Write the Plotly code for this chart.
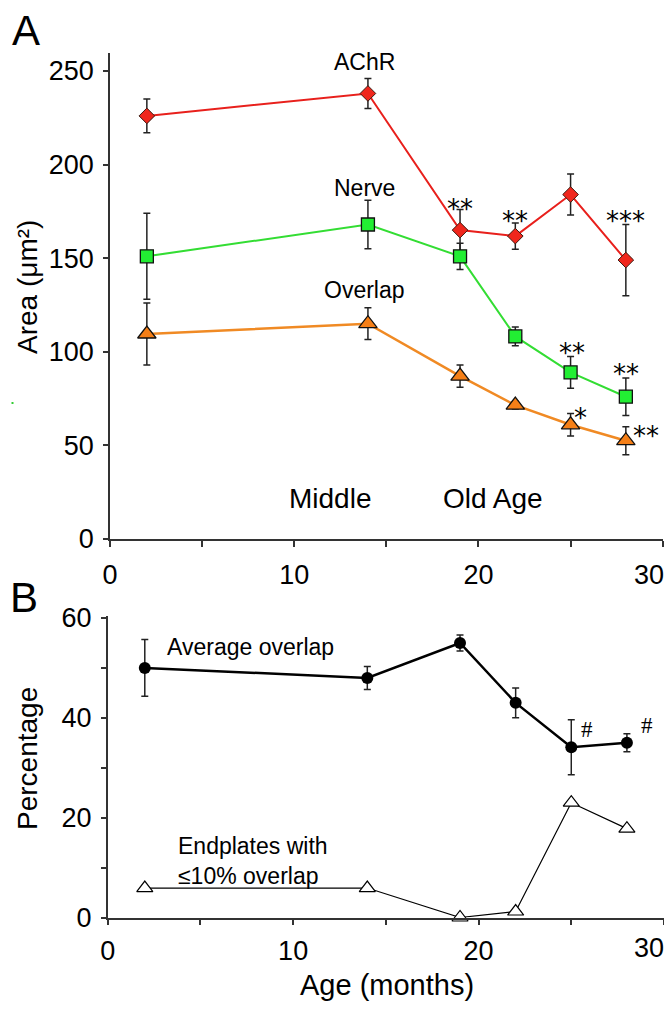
import plotly.graph_objects as go

# ---------------- data ----------------
ages = [2, 14, 19, 22, 25, 28]

achr_area = [226, 238, 165, 161.8, 184, 149]
achr_err = [9, 8, 11, 7, 11, 19]

nerve_area = [151, 168, 151, 108.2, 89, 76]
nerve_err = [23, 13, 7, 5, 8.5, 10]

overlap_area = [109.5, 115, 87, 71.5, 61, 52.5]
overlap_err = [16.5, 8.5, 6, 2, 6, 7.5]

avg_overlap_pct = [50, 48, 55, 43, 34.1, 35]
avg_overlap_err = [5.7, 2.3, 1.6, 3, 5.5, 1.8]

low_overlap_pct = [5.9, 5.9, 0, 1.2, 23, 17.8]

x_tickvals = [0, 5, 10, 15, 20, 25, 30]
x_ticktext = ["0", "", "10", "", "20", "", ""]
ya_tickvals = [0, 50, 100, 150, 200, 250]
ya_ticktext = ["0", "50", "100", "150", "200", "250"]
yb_tickvals = [0, 10, 20, 30, 40, 50, 60]
yb_ticktext = ["0", "", "20", "", "40", "", "60"]

# significance marks (x, y, text)
sig_a = [
    (19, 180.3, "**"), (22, 174.1, "**"), (28.0, 174.1, "***"),
    (25.1, 103.8, "**"), (28.0, 92.4, "**"),
    (25.55, 68.9, "*"), (29.1, 59.1, "**"),
]
sig_b = [(25.84, 37.6, "#"), (29.07, 38.4, "#")]

FONT = "Liberation Sans, Arial, sans-serif"
# the page body adds an 8px margin, so the figure is sized/offset to compensate
OFF = 8
W, H = 672 - OFF, 1009 - OFF


def px(x):
    return (x - OFF) / W


def py(y):
    return 1 - (y - OFF) / H


fig = go.Figure()

err_style = dict(type="data", thickness=1.5, width=3.5, color="#222222")

# Panel A
fig.add_trace(go.Scatter(
    x=ages, y=achr_area, mode="lines+markers", xaxis="x", yaxis="y",
    line=dict(color="#e8201c", width=2),
    marker=dict(symbol="diamond", size=12, color="#f0261c",
                line=dict(color="#3a1a10", width=1)),
    error_y=dict(array=achr_err, **err_style), cliponaxis=False, showlegend=False))
fig.add_trace(go.Scatter(
    x=ages, y=nerve_area, mode="lines+markers", xaxis="x", yaxis="y",
    line=dict(color="#33dd33", width=2),
    marker=dict(symbol="square", size=13, color="#22ee33",
                line=dict(color="#111111", width=1.3)),
    error_y=dict(array=nerve_err, **err_style), cliponaxis=False, showlegend=False))
fig.add_trace(go.Scatter(
    x=ages, y=overlap_area, mode="lines+markers", xaxis="x", yaxis="y",
    line=dict(color="#f08a24", width=2.5),
    marker=dict(symbol="triangle-up", size=16, color="#f57f17",
                line=dict(color="#111111", width=1.3)),
    error_y=dict(array=overlap_err, **err_style), cliponaxis=False, showlegend=False))

# Panel B
fig.add_trace(go.Scatter(
    x=ages, y=avg_overlap_pct, mode="lines+markers", xaxis="x2", yaxis="y2",
    line=dict(color="#000000", width=2.5),
    marker=dict(symbol="circle", size=12, color="#000000"),
    error_y=dict(array=avg_overlap_err, **err_style), cliponaxis=False, showlegend=False))
fig.add_trace(go.Scatter(
    x=ages, y=low_overlap_pct, mode="lines+markers", xaxis="x2", yaxis="y2",
    line=dict(color="#000000", width=1.2),
    marker=dict(symbol="triangle-up", size=14, color="#ffffff",
                line=dict(color="#000000", width=1.2)),
    cliponaxis=False, showlegend=False))

xaxis_common = dict(
    range=[0, 30], showline=True, linecolor="#333333", linewidth=1.5,
    ticks="outside", ticklen=6, tickwidth=1.5, tickcolor="#333333",
    tickvals=x_tickvals, ticktext=x_ticktext,
    tickfont=dict(family=FONT, size=27, color="#000000"),
    showgrid=False, zeroline=False, fixedrange=True, automargin=False,
)
yaxis_common = dict(
    showline=True, linecolor="#333333", linewidth=1.5,
    ticks="outside", ticklen=5, tickwidth=1.5, tickcolor="#333333",
    tickfont=dict(family=FONT, size=27, color="#000000"),
    showgrid=False, zeroline=False, fixedrange=True, automargin=False,
)

fig.update_layout(
    template="none",
    width=W, height=H, margin=dict(l=0, r=0, t=0, b=0, autoexpand=False),
    paper_bgcolor="#ffffff", plot_bgcolor="#ffffff",
    font=dict(family=FONT, color="#000000"),
    xaxis=dict(domain=[px(110), px(662.7)], anchor="y",
               ticklabelstandoff=5, **xaxis_common),
    yaxis=dict(domain=[py(539), py(53)], anchor="x", range=[0, 259.6],
               tickvals=ya_tickvals, ticktext=ya_ticktext,
               ticklabelstandoff=4, **yaxis_common),
    xaxis2=dict(domain=[px(107.7), px(664)], anchor="y2",
                ticklabelstandoff=2, **xaxis_common),
    yaxis2=dict(domain=[py(917.5), py(616)], anchor="x2", range=[0, 60.4],
                tickvals=yb_tickvals, ticktext=yb_ticktext,
                ticklabelstandoff=4, **yaxis_common),
)

ann = []


def paper_text(text, x, y, size, angle=0, family=FONT, xanchor="center"):
    ann.append(dict(text=text, x=px(x), y=py(y), xref="paper", yref="paper",
                    xanchor=xanchor, yanchor="middle", showarrow=False,
                    textangle=angle, font=dict(family=family, size=size, color="#000000")))


def data_text(text, x, y, size, xr, yr, family=FONT, xanchor="center", yshift=0, align="center"):
    ann.append(dict(text=text, x=x, y=y, xref=xr, yref=yr,
                    xanchor=xanchor, yanchor="middle", showarrow=False, yshift=yshift,
                    align=align, font=dict(family=family, size=size, color="#000000")))


# panel letters
paper_text("A", 26, 30, 42)
paper_text("B", 24, 597, 42)
# axis titles
paper_text("Area (μm²)", 27, 287, 28, angle=-90)
paper_text("Percentage", 27, 759, 28, angle=-90)
paper_text("Age (months)", 387, 985, 29)
# '30' tick labels (drawn left of the axis end, as in the figure)
paper_text("30", 649, 575, 27)
paper_text("30", 649, 947.5, 27)

# panel A labels
data_text("AChR", 13.8, 254.8, 23, "x", "y")
data_text("Nerve", 13.8, 187.5, 23, "x", "y")
data_text("Overlap", 13.8, 133, 23, "x", "y")
data_text("Middle", 11.95, 21.4, 28, "x", "y")
data_text("Old Age", 20.8, 21.4, 28, "x", "y")
for sx, sy, st in sig_a:
    data_text(st, sx, sy, 26, "x", "y", family="DejaVu Sans", yshift=-8)

# panel B labels
data_text("Average overlap", 3.09, 54.2, 23, "x2", "y2", xanchor="left")
data_text("Endplates with<br>≤10% overlap", 3.68, 11.3, 23, "x2", "y2",
          xanchor="left", align="left")
for sx, sy, st in sig_b:
    data_text(st, sx, sy, 23, "x2", "y2", family="Liberation Serif")

fig.update_layout(annotations=ann)

# tiny green speck seen at the left edge of the original figure
fig.add_shape(type="rect", xref="paper", yref="paper",
              x0=px(11.5), x1=px(13.5), y0=py(404), y1=py(402),
              fillcolor="#33cc33", line=dict(width=0))

fig.write_html("out.html")
